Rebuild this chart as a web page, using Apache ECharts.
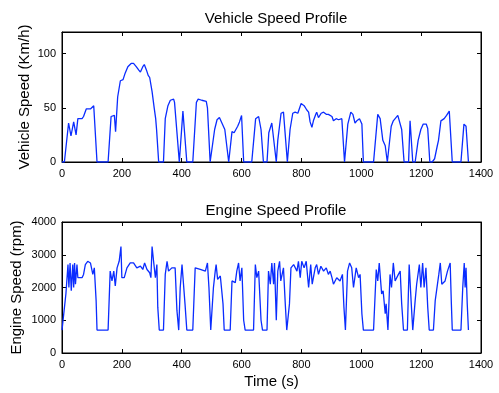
<!DOCTYPE html>
<html>
<head>
<meta charset="utf-8">
<script src="https://cdn.jsdelivr.net/npm/echarts@6/dist/echarts.min.js"></script>
<style>
  html, body { margin: 0; padding: 0; background: #fff; }
  #chart { width: 499px; height: 393px; }
</style>
</head>
<body>
<div id="chart"></div>
<script>
// time (s) and vehicle speed (km/h)
var speedTime = [0, 8, 22, 30, 39, 47, 53, 67, 72, 81, 95, 106, 117, 154, 164, 170, 175, 179, 186, 195, 204, 211, 220, 231, 239, 248, 256, 262, 270, 275, 282, 288, 293, 301, 308, 313, 316, 323, 339, 345, 354, 362, 373, 376, 392, 398, 404, 409, 417, 437, 449, 455, 467, 482, 486, 495, 499, 510, 518, 526, 532, 544, 557, 562, 568, 575, 587, 593, 600, 607, 634, 647, 657, 665, 673, 685, 691, 701, 707, 716, 721, 732, 740, 753, 757, 762, 771, 779, 788, 799, 809, 818, 824, 829, 835, 840, 848, 851, 857, 866, 874, 883, 890, 902, 907, 916, 924, 935, 937, 944, 955, 965, 972, 979, 985, 994, 1002, 1007, 1041, 1055, 1063, 1072, 1080, 1087, 1100, 1107, 1122, 1127, 1135, 1143, 1158, 1163, 1172, 1180, 1190, 1199, 1207, 1217, 1222, 1229, 1237, 1245, 1254, 1258, 1266, 1277, 1285, 1294, 1304, 1333, 1343, 1350, 1358];
var speedVal = [0, 0, 36, 24, 37, 25, 40, 40, 42, 49, 49, 52, 0, 0, 42, 41, 43, 28, 60, 75, 76, 82, 88, 91, 91, 88, 85, 83, 88, 90, 85, 80, 78, 65, 50, 40, 30, 0, 0, 40, 52, 57, 58, 55, 0, 0, 47, 47, 0, 0, 55, 58, 57, 56, 50, 0, 0, 30, 39, 41, 40, 30, 0, 0, 28, 27, 33, 37, 43, 0, 0, 40, 42, 30, 0, 0, 27, 36, 37, 0, 20, 45, 46, 0, 0, 30, 45, 46, 45, 54, 52, 48, 46, 37, 32, 38, 44, 46, 41, 45, 46, 44, 44, 42, 38, 40, 39, 40, 40, 0, 35, 46, 44, 36, 38, 40, 35, 0, 0, 44, 40, 20, 15, 0, 33, 38, 43, 42, 30, 0, 0, 38, 0, 0, 20, 30, 35, 35, 31, 0, 0, 3, 15, 20, 38, 40, 43, 47, 0, 0, 35, 33, 0];

// time (s) and engine speed (rpm)
var engineTime = [0, 5, 13, 20, 23, 27, 31, 36, 39, 42, 45, 50, 53, 67, 72, 78, 86, 95, 100, 103, 108, 114, 117, 154, 161, 167, 173, 178, 184, 191, 197, 200, 208, 217, 228, 239, 250, 262, 270, 276, 284, 293, 297, 301, 306, 312, 317, 320, 325, 339, 345, 351, 356, 367, 378, 384, 390, 395, 401, 406, 411, 417, 437, 445, 462, 479, 486, 491, 497, 506, 512, 515, 520, 529, 538, 542, 562, 568, 579, 584, 590, 595, 601, 607, 612, 640, 646, 651, 657, 665, 670, 685, 690, 696, 701, 707, 710, 716, 721, 727, 731, 740, 746, 751, 760, 765, 774, 785, 790, 796, 801, 809, 816, 824, 831, 836, 846, 851, 857, 865, 874, 883, 890, 896, 902, 907, 918, 929, 937, 942, 947, 954, 961, 968, 974, 983, 991, 996, 1002, 1007, 1041, 1050, 1055, 1060, 1068, 1073, 1080, 1083, 1089, 1096, 1101, 1107, 1113, 1124, 1130, 1135, 1141, 1154, 1160, 1167, 1172, 1180, 1185, 1194, 1199, 1205, 1210, 1216, 1222, 1227, 1241, 1247, 1259, 1264, 1269, 1280, 1288, 1297, 1301, 1304, 1333, 1339, 1344, 1347, 1350, 1354, 1358];
var engineVal = [700, 700, 1800, 2700, 2000, 2750, 1900, 2700, 2000, 2750, 2100, 2700, 2300, 2300, 2400, 2700, 2800, 2750, 2800, 2400, 2600, 1600, 700, 700, 2500, 2200, 2500, 2050, 2600, 2800, 3250, 2300, 2300, 2600, 2750, 2750, 2600, 2650, 2550, 2750, 2550, 2450, 2300, 3250, 2800, 2300, 2700, 1400, 700, 700, 2400, 2800, 2500, 2600, 2600, 1300, 700, 2000, 2700, 2750, 1500, 700, 700, 2600, 2550, 2500, 2750, 2000, 700, 2000, 2500, 2700, 2250, 2350, 1500, 700, 700, 2200, 2150, 2500, 2750, 2200, 2600, 1000, 700, 700, 2700, 2300, 2500, 1000, 700, 700, 2500, 2100, 2750, 2100, 2750, 1000, 2500, 2800, 2200, 2600, 1500, 700, 1500, 2600, 2700, 2500, 2800, 2300, 2800, 2600, 2800, 2000, 2700, 2100, 2600, 2700, 2400, 2650, 2500, 2600, 2400, 2500, 2300, 2100, 2300, 2200, 2400, 1400, 700, 2500, 2750, 2600, 2000, 2600, 2300, 2400, 1200, 700, 700, 2550, 2200, 2750, 1800, 1900, 1200, 1500, 700, 2400, 2000, 2750, 2200, 2400, 2500, 1500, 700, 700, 2700, 1500, 700, 1600, 2100, 2700, 2000, 2750, 2000, 2600, 1400, 700, 700, 1600, 2400, 2750, 2100, 2200, 2500, 2750, 1500, 700, 700, 2000, 2750, 2000, 2600, 1500, 700];

var xTicks = [0, 1400, 200];

function zip(a, b) {
  var out = [];
  for (var i = 0; i < a.length; i++) out.push([a[i], b[i]]);
  return out;
}

var font = 'Liberation Sans, Arial, Helvetica, sans-serif';
var lineBlue = '#0a2cff';
var plain = function (v) { return String(v); };

function mkX(grid, pos, showLabel, name) {
  return {
    type: 'value', gridIndex: grid, position: pos,
    min: xTicks[0], max: xTicks[1], interval: xTicks[2],
    name: name || '', nameLocation: 'middle', nameGap: 21, nameMoveOverlap: false,
    nameTextStyle: { color: '#000', fontSize: 15, fontFamily: font },
    axisLine: { show: true, onZero: false, lineStyle: { color: '#000', width: 1 } },
    axisTick: { show: true, inside: true, length: 4, lineStyle: { color: '#000' } },
    axisLabel: { show: showLabel, color: '#000', fontSize: 11, fontFamily: font, margin: 6, formatter: plain },
    splitLine: { show: false }
  };
}
function mkY(grid, pos, showLabel, max, interval, name, gap) {
  return {
    type: 'value', gridIndex: grid, position: pos,
    min: 0, max: max, interval: interval,
    name: name || '', nameLocation: 'middle', nameGap: gap || 30, nameMoveOverlap: false,
    nameTextStyle: { color: '#000', fontSize: 15, fontFamily: font },
    axisLine: { show: true, onZero: false, lineStyle: { color: '#000', width: 1 } },
    axisTick: { show: true, inside: true, length: 4, lineStyle: { color: '#000' } },
    axisLabel: { show: showLabel, color: '#000', fontSize: 11, fontFamily: font, margin: 6,
      showMaxLabel: max % interval === 0, formatter: plain },
    splitLine: { show: false }
  };
}

var chart = echarts.init(document.getElementById('chart'));
chart.setOption({
  animation: false,
  backgroundColor: '#fff',
  title: [
    { text: 'Vehicle Speed Profile', left: 271, top: 6, textAlign: 'center',
      textStyle: { fontSize: 15, fontWeight: 'normal', color: '#000', fontFamily: font } },
    { text: 'Engine Speed Profile', left: 271, top: 198, textAlign: 'center',
      textStyle: { fontSize: 15, fontWeight: 'normal', color: '#000', fontFamily: font } }
  ],
  grid: [
    { left: 62, right: 18, top: 32, height: 130, show: true, borderColor: '#000', borderWidth: 1, backgroundColor: 'transparent' },
    { left: 62, right: 18, top: 222, height: 131, show: true, borderColor: '#000', borderWidth: 1, backgroundColor: 'transparent' }
  ],
  xAxis: [
    mkX(0, 'bottom', true),
    mkX(0, 'top', false),
    mkX(1, 'bottom', true, 'Time (s)'),
    mkX(1, 'top', false)
  ],
  yAxis: [
    mkY(0, 'left', true, 120, 50, 'Vehicle Speed (Km/h)', 30),
    mkY(0, 'right', false, 120, 50),
    mkY(1, 'left', true, 4000, 1000, 'Engine Speed (rpm)', 38),
    mkY(1, 'right', false, 4000, 1000)
  ],
  series: [
    { type: 'line', xAxisIndex: 0, yAxisIndex: 0, data: zip(speedTime, speedVal),
      showSymbol: false, lineStyle: { color: lineBlue, width: 1.3 } },
    { type: 'line', xAxisIndex: 2, yAxisIndex: 2, data: zip(engineTime, engineVal),
      showSymbol: false, lineStyle: { color: lineBlue, width: 1.3 } }
  ]
});
</script>
</body>
</html>
